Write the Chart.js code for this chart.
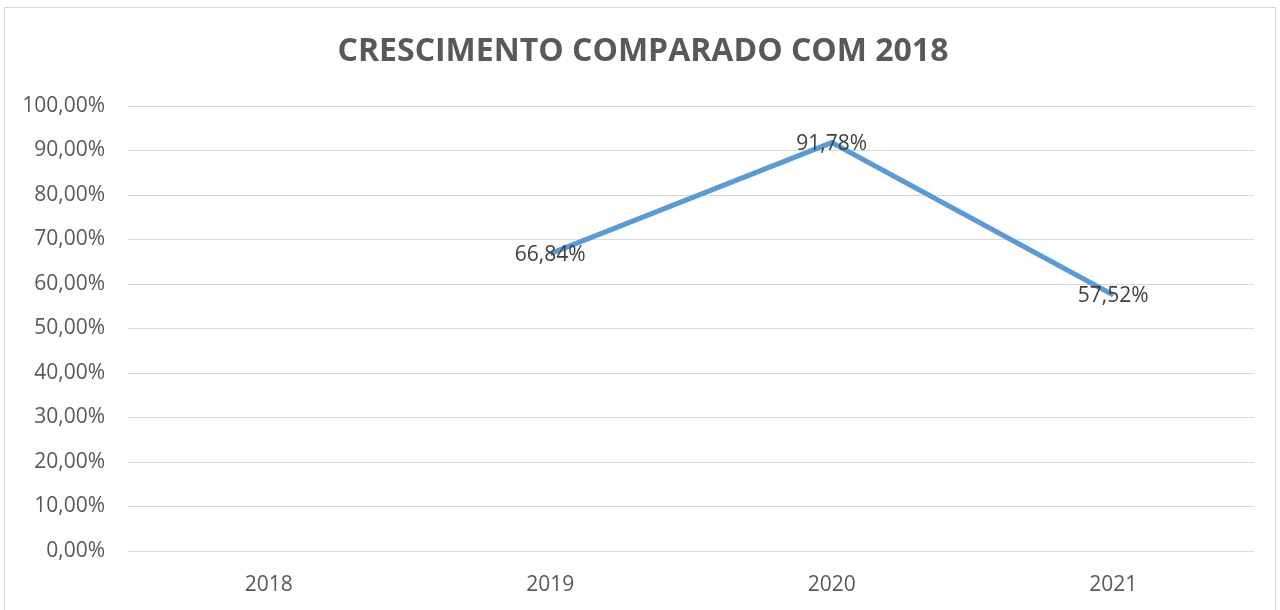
<!DOCTYPE html>
<html>
<head>
<meta charset="utf-8">
<script src="https://cdn.jsdelivr.net/npm/chart.js@4/dist/chart.umd.min.js"></script>
<style>
  html, body { margin: 0; padding: 0; background: #fff; }
  #wrap { position: relative; width: 1280px; height: 610px; }
  #frame { position: absolute; left: 4px; top: 7px; width: 1272px; height: 610px; border: 1px solid #D9D9D9; box-sizing: border-box; pointer-events: none; }
  canvas { position: absolute; left: 0; top: 0; }
</style>
</head>
<body>
<div id="wrap">
  <canvas id="c" width="1280" height="610"></canvas>
  <div id="frame"></div>
</div>
<script>
const titleText = "CRESCIMENTO COMPARADO COM 2018";
const categories = ["2018", "2019", "2020", "2021"];
const growthValues = [null, 66.84, 91.78, 57.52];
const yTicks = [0, 10, 20, 30, 40, 50, 60, 70, 80, 90, 100];

const fmt = v => v.toFixed(2).replace(".", ",") + "%";
const FONT = "'Open Sans', sans-serif";

const dataLabels = {
  id: "dataLabels",
  afterDatasetsDraw(chart) {
    const ctx = chart.ctx;
    const meta = chart.getDatasetMeta(0);
    ctx.save();
    ctx.font = "21px " + FONT;
    ctx.fillStyle = "#404040";
    ctx.textAlign = "center";
    ctx.textBaseline = "middle";
    meta.data.forEach((pt, i) => {
      const v = chart.data.datasets[0].data[i];
      if (v === null || v === undefined) return;
      ctx.fillText(fmt(v), pt.x, pt.y + 1);
    });
    ctx.restore();
  }
};

new Chart(document.getElementById("c"), {
  type: "line",
  data: {
    labels: categories,
    datasets: [{
      data: growthValues,
      borderColor: "#5B9BD5",
      borderWidth: 5,
      pointRadius: 0,
      pointHoverRadius: 0,
      tension: 0,
      fill: false,
      spanGaps: false
    }]
  },
  options: {
    responsive: false,
    animation: false,
    devicePixelRatio: 1,
    layout: { padding: { top: 0, right: 0, bottom: 0, left: 6 } },
    plugins: {
      legend: { display: false },
      tooltip: { enabled: false },
      title: {
        display: true,
        text: titleText,
        color: "#595959",
        font: { family: FONT, size: 32, weight: "bold" },
        padding: { top: 33, bottom: 34.6 }
      }
    },
    scales: {
      x: {
        offset: true,
        grid: { display: false, drawTicks: false },
        border: { display: false },
        ticks: { color: "#595959", font: { family: FONT, size: 21 }, padding: 21, maxRotation: 0 },
        afterFit(scale) { scale.height = 59; }
      },
      y: {
        position: "left",
        min: 0,
        max: 100,
        afterBuildTicks(scale) { scale.ticks = yTicks.map(v => ({ value: v })); },
        grid: { color: "#D9D9D9", lineWidth: 1, drawTicks: false },
        border: { display: false },
        ticks: {
          color: "#595959",
          font: { family: FONT, size: 21 },
          padding: 23,
          callback: v => fmt(v)
        },
        afterFit(scale) { scale.width = 122; }
      },
      yRightSpace: {
        position: "right",
        display: true,
        min: 0,
        max: 100,
        grid: { display: false, drawTicks: false },
        border: { display: false },
        ticks: { display: false },
        afterFit(scale) { scale.width = 26; }
      }
    }
  },
  plugins: [dataLabels]
});
</script>
</body>
</html>
